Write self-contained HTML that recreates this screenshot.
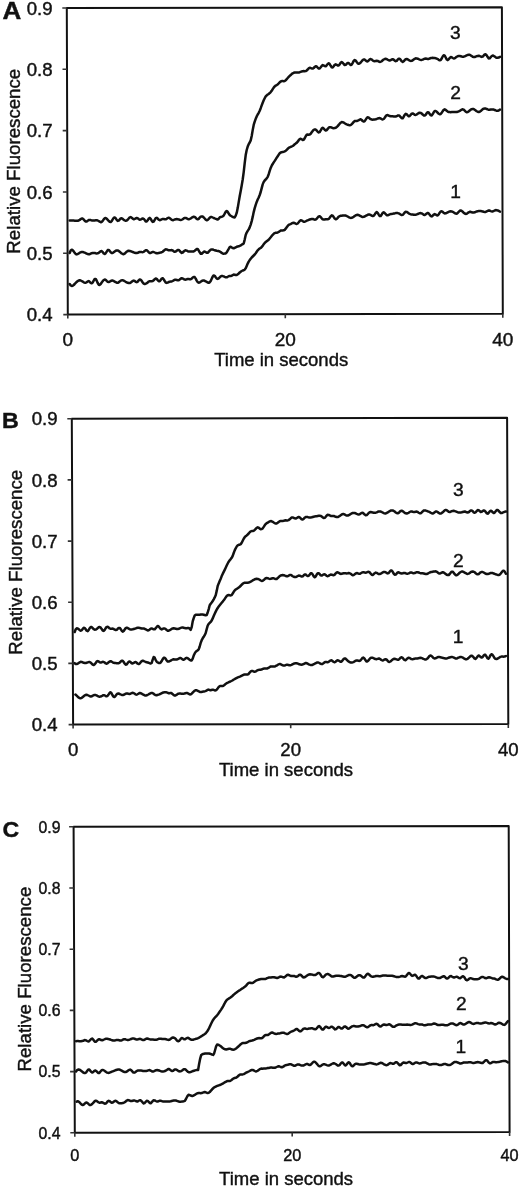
<!DOCTYPE html>
<html><head><meta charset="utf-8"><title>Relative Fluorescence vs Time</title>
<style>
html,body{margin:0;padding:0;background:#fff;overflow:hidden;}
svg{display:block;}
text{font-family:"Liberation Sans", Arial, Helvetica, sans-serif;fill:#111;stroke:#111;stroke-width:0.42px;}
</style></head>
<body>
<svg width="520" height="1186" viewBox="0 0 520 1186">
<rect width="520" height="1186" fill="#fff"/>
<g fill="none" stroke="#111" stroke-width="2" stroke-linejoin="round">
<path d="M66.8,8.0 L501.9,7.3 L502.8,313.8 L67.8,314.6 Z"/>
<path stroke="#333" stroke-width="1.6" d="M66.8,8.0 h-4.5 M67.0,69.3 h-4.5 M67.2,130.6 h-4.5 M67.4,192.0 h-4.5 M67.6,253.3 h-4.5 M67.8,314.6 h-4.5 M67.8,314.6 v4 M285.3,314.2 v4 M502.8,313.8 v4"/>
<path d="M71.8,418.7 L507.1,417.7 L508.3,724.0 L73.1,724.6 Z"/>
<path stroke="#333" stroke-width="1.6" d="M71.8,418.7 h-4.5 M72.1,479.9 h-4.5 M72.3,541.1 h-4.5 M72.6,602.2 h-4.5 M72.8,663.4 h-4.5 M73.1,724.6 h-4.5 M73.1,724.6 v4 M290.7,724.3 v4 M508.3,724.0 v4"/>
<path d="M73.6,826.8 L508.7,825.9 L509.6,1132.0 L74.8,1132.8 Z"/>
<path stroke="#333" stroke-width="1.6" d="M73.6,826.8 h-4.5 M73.8,888.0 h-4.5 M74.1,949.2 h-4.5 M74.3,1010.4 h-4.5 M74.6,1071.6 h-4.5 M74.8,1132.8 h-4.5 M74.8,1132.8 v4 M292.2,1132.4 v4 M509.6,1132.0 v4"/>
</g>
<g fill="none" stroke="#111" stroke-width="2.5" stroke-linejoin="round" stroke-linecap="round">
<path d="M69.7,220.5 70.7,220.5 71.7,220.5 72.7,220.6 73.7,220.6 74.7,220.7 75.7,220.8 76.7,220.8 77.7,220.8 78.7,220.5 79.7,219.9 80.7,219.1 81.7,218.5 82.7,218.6 83.7,219.5 84.7,220.7 85.7,221.5 86.7,221.4 87.7,220.7 88.7,220.1 89.7,219.9 90.7,220.1 91.7,220.4 92.7,220.6 93.7,220.6 94.7,220.4 95.7,220.3 96.7,220.3 97.7,220.5 98.7,221.0 99.7,221.7 100.7,222.2 101.7,222.0 102.7,220.9 103.7,219.4 104.7,218.2 105.7,218.0 106.7,218.7 107.7,219.8 108.7,221.0 109.7,221.8 110.7,222.0 111.7,221.1 112.7,219.4 113.7,217.9 114.7,217.4 115.7,218.3 116.7,219.9 117.7,220.9 118.7,220.6 119.7,219.5 120.7,218.5 121.7,218.3 122.7,218.9 123.7,219.7 124.7,220.4 125.7,220.7 126.7,220.5 127.7,219.7 128.7,218.5 129.7,217.4 130.7,217.1 131.7,217.7 132.7,218.6 133.7,219.2 134.7,219.0 135.7,218.4 136.7,217.9 137.7,218.3 138.7,219.1 139.7,219.7 140.7,219.6 141.7,218.9 142.7,218.4 143.7,218.8 144.7,220.1 145.7,221.4 146.7,221.5 147.7,220.3 148.7,218.6 149.7,217.9 150.7,218.9 151.7,220.7 152.7,221.9 153.7,221.5 154.7,219.8 155.7,218.2 156.7,217.8 157.7,218.6 158.7,219.7 159.7,220.2 160.7,219.9 161.7,219.3 162.7,218.9 163.7,219.0 164.7,219.3 165.7,219.3 166.7,218.8 167.7,218.1 168.7,217.7 169.7,218.1 170.7,219.0 171.7,219.8 172.7,220.2 173.7,220.0 174.7,219.5 175.7,219.2 176.7,219.1 177.7,219.2 178.7,219.4 179.7,219.7 180.7,219.9 181.7,219.8 182.7,219.2 183.7,218.4 184.7,217.9 185.7,217.9 186.7,218.4 187.7,219.0 188.7,219.2 189.7,219.0 190.7,218.5 191.7,217.8 192.7,217.1 193.7,216.7 194.7,216.9 195.7,217.8 196.7,218.8 197.7,219.3 198.7,218.8 199.7,217.7 200.7,216.7 201.7,216.4 202.7,216.6 203.7,217.4 204.7,218.5 205.7,219.6 206.7,220.2 207.7,220.0 208.7,218.9 209.7,217.7 210.7,216.9 211.7,217.0 212.7,217.5 213.7,218.0 214.7,218.4 215.7,218.7 216.7,219.3 217.7,219.6 218.7,218.7 219.7,217.4 220.7,216.9 221.7,216.7 222.7,216.4 223.7,215.5 224.7,213.7 225.7,211.8 226.7,211.0 227.7,211.8 228.7,213.5 229.7,214.9 230.7,215.7 231.7,216.3 232.7,216.8 233.7,217.3 234.7,217.4 235.7,215.7 236.7,212.9 237.7,208.1 238.7,202.1 239.7,196.3 240.7,191.0 241.7,185.6 242.7,179.5 243.7,172.1 244.7,163.2 245.7,155.1 246.7,150.0 247.7,146.6 248.7,144.2 249.7,142.5 250.7,140.4 251.7,136.0 252.7,130.1 253.7,124.9 254.7,121.6 255.7,118.8 256.7,116.4 257.7,114.5 258.7,112.8 259.7,110.7 260.7,108.2 261.7,105.4 262.7,102.7 263.7,100.3 264.7,98.3 265.7,96.4 266.7,95.4 267.7,94.6 268.7,93.9 269.7,93.1 270.7,92.1 271.7,90.8 272.7,89.1 273.7,87.6 274.7,86.4 275.7,85.6 276.7,85.1 277.7,84.4 278.7,83.4 279.7,82.3 280.7,81.5 281.7,81.1 282.7,81.1 283.7,81.2 284.7,81.0 285.7,80.3 286.7,79.2 287.7,78.0 288.7,76.9 289.7,75.9 290.7,75.0 291.7,74.1 292.7,73.3 293.7,72.8 294.7,72.5 295.7,72.5 296.7,72.5 297.7,72.6 298.7,72.5 299.7,72.2 300.7,71.8 301.7,71.4 302.7,71.2 303.7,71.1 304.7,71.2 305.7,71.1 306.7,70.5 307.7,69.5 308.7,68.4 309.7,67.8 310.7,68.0 311.7,68.5 312.7,68.6 313.7,68.0 314.7,67.0 315.7,66.2 316.7,66.5 317.7,67.6 318.7,68.5 319.7,68.5 320.7,67.3 321.7,65.9 322.7,65.1 323.7,65.4 324.7,66.1 325.7,66.3 326.7,65.3 327.7,64.0 328.7,63.3 329.7,64.1 330.7,65.8 331.7,67.3 332.7,67.4 333.7,66.2 334.7,64.8 335.7,64.3 336.7,64.8 337.7,65.5 338.7,65.4 339.7,64.3 340.7,62.8 341.7,62.0 342.7,62.7 343.7,64.0 344.7,65.0 345.7,64.8 346.7,63.8 347.7,62.9 348.7,63.1 349.7,64.1 350.7,65.0 351.7,64.6 352.7,62.9 353.7,60.9 354.7,60.0 355.7,60.6 356.7,62.0 357.7,63.3 358.7,63.8 359.7,63.4 360.7,62.5 361.7,61.3 362.7,60.1 363.7,59.4 364.7,59.6 365.7,60.5 366.7,61.3 367.7,61.4 368.7,60.5 369.7,59.4 370.7,59.0 371.7,59.5 372.7,60.4 373.7,61.1 374.7,61.2 375.7,60.9 376.7,60.7 377.7,60.9 378.7,61.5 379.7,61.9 380.7,61.8 381.7,61.2 382.7,60.3 383.7,59.5 384.7,59.0 385.7,58.8 386.7,59.1 387.7,59.7 388.7,60.3 389.7,60.5 390.7,60.1 391.7,59.5 392.7,59.2 393.7,59.7 394.7,60.6 395.7,61.2 396.7,60.8 397.7,59.7 398.7,58.7 399.7,58.7 400.7,59.9 401.7,61.3 402.7,61.9 403.7,61.3 404.7,60.2 405.7,59.2 406.7,59.0 407.7,59.4 408.7,60.0 409.7,60.6 410.7,60.9 411.7,60.8 412.7,60.3 413.7,59.5 414.7,58.8 415.7,58.3 416.7,58.4 417.7,58.7 418.7,59.2 419.7,59.6 420.7,59.9 421.7,59.9 422.7,59.6 423.7,59.1 424.7,58.7 425.7,58.6 426.7,58.8 427.7,59.0 428.7,58.9 429.7,58.5 430.7,58.1 431.7,57.9 432.7,57.8 433.7,57.9 434.7,58.1 435.7,58.3 436.7,58.6 437.7,59.1 438.7,59.8 439.7,60.3 440.7,60.0 441.7,58.5 442.7,56.5 443.7,55.2 444.7,55.6 445.7,57.5 446.7,59.4 447.7,60.1 448.7,59.3 449.7,58.0 450.7,57.1 451.7,57.3 452.7,58.0 453.7,58.5 454.7,58.3 455.7,57.6 456.7,56.8 457.7,56.2 458.7,55.9 459.7,55.9 460.7,56.2 461.7,56.5 462.7,56.7 463.7,56.7 464.7,56.3 465.7,55.9 466.7,55.3 467.7,54.9 468.7,54.7 469.7,54.8 470.7,55.4 471.7,56.1 472.7,56.8 473.7,57.0 474.7,57.0 475.7,56.6 476.7,56.2 477.7,55.9 478.7,55.8 479.7,56.0 480.7,56.5 481.7,56.9 482.7,56.6 483.7,55.5 484.7,54.5 485.7,54.3 486.7,55.4 487.7,57.1 488.7,58.4 489.7,58.3 490.7,57.2 491.7,56.0 492.7,55.5 493.7,55.9 494.7,56.6 495.7,57.3 496.7,57.8 497.7,57.8 498.7,57.6 499.7,57.0 500.0,56.9"/>
<path d="M69.7,253.0 70.7,250.5 71.7,249.7 72.7,250.2 73.7,251.4 74.7,252.9 75.7,254.0 76.7,254.4 77.7,254.1 78.7,253.4 79.7,252.7 80.7,252.3 81.7,252.1 82.7,252.1 83.7,252.3 84.7,252.7 85.7,253.1 86.7,253.7 87.7,254.1 88.7,254.3 89.7,254.2 90.7,253.7 91.7,253.2 92.7,252.9 93.7,252.9 94.7,252.9 95.7,253.2 96.7,253.4 97.7,253.3 98.7,252.9 99.7,252.0 100.7,251.2 101.7,251.1 102.7,252.1 103.7,253.4 104.7,254.0 105.7,253.2 106.7,251.6 107.7,250.1 108.7,249.9 109.7,250.9 110.7,252.2 111.7,253.0 112.7,252.9 113.7,252.3 114.7,251.5 115.7,250.8 116.7,250.5 117.7,250.5 118.7,250.9 119.7,251.7 120.7,252.6 121.7,253.5 122.7,254.0 123.7,254.2 124.7,253.7 125.7,252.7 126.7,251.7 127.7,251.0 128.7,250.7 129.7,250.9 130.7,251.2 131.7,251.6 132.7,252.0 133.7,252.4 134.7,252.8 135.7,253.0 136.7,253.1 137.7,252.8 138.7,252.3 139.7,252.0 140.7,251.9 141.7,252.1 142.7,252.2 143.7,251.8 144.7,251.0 145.7,250.3 146.7,250.2 147.7,251.1 148.7,252.2 149.7,253.0 150.7,252.9 151.7,252.4 152.7,251.9 153.7,252.0 154.7,252.5 155.7,253.0 156.7,253.3 157.7,253.2 158.7,252.9 159.7,252.7 160.7,252.6 161.7,252.3 162.7,251.7 163.7,250.8 164.7,249.8 165.7,249.3 166.7,249.4 167.7,249.8 168.7,250.3 169.7,250.3 170.7,250.2 171.7,250.1 172.7,250.5 173.7,251.3 174.7,251.8 175.7,251.6 176.7,250.8 177.7,250.0 178.7,249.9 179.7,250.9 180.7,252.1 181.7,252.9 182.7,252.5 183.7,251.5 184.7,250.6 185.7,250.3 186.7,250.7 187.7,251.2 188.7,251.5 189.7,251.6 190.7,251.5 191.7,251.5 192.7,251.5 193.7,251.4 194.7,250.8 195.7,249.9 196.7,249.1 197.7,249.1 198.7,250.5 199.7,252.3 200.7,253.7 201.7,253.7 202.7,252.8 203.7,251.8 204.7,251.6 205.7,252.1 206.7,252.7 207.7,252.7 208.7,251.8 209.7,250.6 210.7,249.7 211.7,249.4 212.7,249.5 213.7,249.9 214.7,250.2 215.7,250.5 216.7,250.8 217.7,250.9 218.7,251.1 219.7,251.5 220.7,252.1 221.7,252.9 222.7,253.5 223.7,253.7 224.7,253.6 225.7,253.4 226.7,252.4 227.7,250.6 228.7,248.9 229.7,247.1 230.7,246.7 231.7,247.4 232.7,248.1 233.7,248.3 234.7,247.8 235.7,247.3 236.7,246.8 237.7,246.5 238.7,246.3 239.7,245.9 240.7,245.4 241.7,244.7 242.7,244.2 243.7,243.4 244.7,239.6 245.7,235.0 246.7,232.6 247.7,230.9 248.7,229.4 249.7,227.4 250.7,224.6 251.7,221.1 252.7,216.9 253.7,212.1 254.7,208.1 255.7,204.8 256.7,201.9 257.7,199.6 258.7,197.4 259.7,195.0 260.7,192.0 261.7,188.1 262.7,184.4 263.7,181.9 264.7,180.5 265.7,179.5 266.7,178.4 267.7,176.8 268.7,174.2 269.7,170.9 270.7,167.9 271.7,165.7 272.7,164.0 273.7,162.4 274.7,160.9 275.7,159.3 276.7,157.7 277.7,156.3 278.7,154.7 279.7,153.3 280.7,152.5 281.7,152.2 282.7,151.9 283.7,151.7 284.7,151.4 285.7,150.8 286.7,149.9 287.7,148.8 288.7,147.9 289.7,147.3 290.7,146.9 291.7,146.5 292.7,146.0 293.7,145.2 294.7,144.3 295.7,143.6 296.7,142.8 297.7,141.7 298.7,140.2 299.7,139.1 300.7,138.7 301.7,139.3 302.7,140.0 303.7,139.8 304.7,138.3 305.7,136.2 306.7,134.8 307.7,134.5 308.7,134.7 309.7,134.6 310.7,133.8 311.7,132.3 312.7,130.9 313.7,129.8 314.7,129.4 315.7,129.6 316.7,130.5 317.7,131.7 318.7,132.4 319.7,132.0 320.7,130.4 321.7,128.6 322.7,127.8 323.7,128.5 324.7,129.7 325.7,130.5 326.7,130.1 327.7,128.9 328.7,127.7 329.7,127.2 330.7,127.2 331.7,127.6 332.7,128.0 333.7,128.2 334.7,128.1 335.7,127.8 336.7,127.0 337.7,126.1 338.7,124.9 339.7,123.7 340.7,122.7 341.7,122.1 342.7,122.2 343.7,122.6 344.7,123.3 345.7,123.9 346.7,124.4 347.7,124.7 348.7,125.0 349.7,125.2 350.7,125.0 351.7,124.3 352.7,123.1 353.7,121.9 354.7,121.1 355.7,120.9 356.7,121.0 357.7,120.8 358.7,120.2 359.7,119.6 360.7,119.3 361.7,120.0 362.7,121.0 363.7,121.6 364.7,121.1 365.7,119.6 366.7,118.1 367.7,117.3 368.7,117.6 369.7,118.4 370.7,119.2 371.7,119.6 372.7,119.7 373.7,119.6 374.7,119.5 375.7,119.3 376.7,119.0 377.7,118.5 378.7,118.2 379.7,118.1 380.7,118.5 381.7,119.1 382.7,119.5 383.7,119.0 384.7,117.7 385.7,116.2 386.7,115.2 387.7,115.1 388.7,115.6 389.7,116.1 390.7,116.3 391.7,116.3 392.7,116.3 393.7,116.4 394.7,116.6 395.7,116.6 396.7,116.2 397.7,115.6 398.7,115.4 399.7,115.9 400.7,117.2 401.7,118.2 402.7,118.2 403.7,116.7 404.7,114.9 405.7,113.8 406.7,114.2 407.7,115.4 408.7,116.3 409.7,116.0 410.7,114.8 411.7,113.7 412.7,113.4 413.7,114.0 414.7,114.8 415.7,115.0 416.7,114.5 417.7,113.7 418.7,113.0 419.7,112.7 420.7,112.9 421.7,113.5 422.7,114.5 423.7,115.4 424.7,115.6 425.7,114.7 426.7,113.2 427.7,112.2 428.7,112.5 429.7,113.9 430.7,115.3 431.7,115.4 432.7,114.1 433.7,112.3 434.7,111.0 435.7,111.0 436.7,111.7 437.7,112.8 438.7,113.7 439.7,114.3 440.7,114.0 441.7,112.8 442.7,111.2 443.7,109.8 444.7,109.3 445.7,109.8 446.7,110.8 447.7,111.6 448.7,112.0 449.7,112.1 450.7,112.2 451.7,112.1 452.7,112.1 453.7,112.1 454.7,112.1 455.7,112.1 456.7,112.0 457.7,111.7 458.7,111.4 459.7,110.9 460.7,110.2 461.7,109.6 462.7,109.3 463.7,109.7 464.7,110.7 465.7,111.7 466.7,112.3 467.7,112.1 468.7,111.4 469.7,110.5 470.7,109.7 471.7,109.2 472.7,108.9 473.7,109.1 474.7,109.7 475.7,110.4 476.7,111.2 477.7,111.8 478.7,112.1 479.7,111.8 480.7,111.1 481.7,110.1 482.7,109.2 483.7,108.7 484.7,108.5 485.7,108.6 486.7,109.0 487.7,109.4 488.7,109.7 489.7,109.7 490.7,109.5 491.7,109.4 492.7,109.4 493.7,109.6 494.7,110.0 495.7,110.4 496.7,110.7 497.7,110.8 498.7,110.5 499.7,109.8 500.0,109.6"/>
<path d="M69.7,284.0 70.7,285.4 71.7,285.9 72.7,285.7 73.7,285.0 74.7,284.0 75.7,282.9 76.7,281.9 77.7,281.1 78.7,280.5 79.7,280.3 80.7,280.5 81.7,281.0 82.7,281.6 83.7,282.3 84.7,282.7 85.7,282.8 86.7,282.2 87.7,281.4 88.7,281.1 89.7,281.8 90.7,282.8 91.7,283.3 92.7,282.5 93.7,280.6 94.7,279.0 95.7,279.0 96.7,280.7 97.7,283.0 98.7,284.7 99.7,284.9 100.7,284.0 101.7,282.6 102.7,281.1 103.7,280.0 104.7,279.5 105.7,279.9 106.7,280.9 107.7,281.7 108.7,282.0 109.7,281.6 110.7,281.0 111.7,280.6 112.7,280.6 113.7,281.0 114.7,281.6 115.7,282.2 116.7,282.7 117.7,282.8 118.7,282.3 119.7,281.4 120.7,280.7 121.7,280.3 122.7,280.3 123.7,280.6 124.7,281.2 125.7,281.8 126.7,282.3 127.7,282.8 128.7,283.1 129.7,283.1 130.7,282.6 131.7,281.7 132.7,280.9 133.7,280.6 134.7,281.0 135.7,281.8 136.7,282.2 137.7,281.6 138.7,280.4 139.7,279.5 140.7,279.7 141.7,280.9 142.7,282.5 143.7,283.6 144.7,284.0 145.7,283.8 146.7,283.2 147.7,282.4 148.7,281.6 149.7,281.2 150.7,281.2 151.7,281.3 152.7,281.1 153.7,280.3 154.7,279.2 155.7,278.5 156.7,278.9 157.7,280.1 158.7,281.2 159.7,281.2 160.7,279.9 161.7,278.6 162.7,278.2 163.7,279.3 164.7,281.0 165.7,282.5 166.7,282.9 167.7,282.6 168.7,282.0 169.7,281.7 170.7,281.6 171.7,281.5 172.7,281.0 173.7,280.4 174.7,279.8 175.7,279.7 176.7,280.0 177.7,280.3 178.7,280.2 179.7,279.5 180.7,278.7 181.7,278.2 182.7,278.4 183.7,279.1 184.7,279.6 185.7,279.7 186.7,279.3 187.7,279.0 188.7,279.0 189.7,279.2 190.7,279.2 191.7,278.6 192.7,277.6 193.7,276.9 194.7,277.1 195.7,278.6 196.7,280.6 197.7,282.2 198.7,282.7 199.7,282.4 200.7,281.7 201.7,281.0 202.7,280.6 203.7,280.5 204.7,280.8 205.7,281.3 206.7,281.9 207.7,282.5 208.7,282.8 209.7,282.3 210.7,280.9 211.7,278.7 212.7,276.6 213.7,275.4 214.7,275.8 215.7,277.2 216.7,278.5 217.7,278.9 218.7,278.4 219.7,277.4 220.7,276.4 221.7,276.0 222.7,276.1 223.7,276.4 224.7,276.9 225.7,277.3 226.7,277.3 227.7,276.8 228.7,276.2 229.7,275.9 230.7,276.0 231.7,275.8 232.7,275.1 233.7,274.6 234.7,274.7 235.7,275.0 236.7,275.0 237.7,274.4 238.7,273.5 239.7,272.5 240.7,271.7 241.7,271.0 242.7,270.5 243.7,270.2 244.7,269.6 245.7,268.3 246.7,266.0 247.7,263.6 248.7,261.6 249.7,260.1 250.7,258.7 251.7,257.5 252.7,256.5 253.7,255.5 254.7,254.5 255.7,253.2 256.7,251.7 257.7,250.3 258.7,249.3 259.7,248.5 260.7,247.9 261.7,247.1 262.7,245.8 263.7,244.2 264.7,242.9 265.7,242.1 266.7,241.3 267.7,240.5 268.7,239.7 269.7,238.5 270.7,237.3 271.7,236.0 272.7,234.8 273.7,233.8 274.7,233.1 275.7,232.8 276.7,232.7 277.7,232.5 278.7,231.9 279.7,231.2 280.7,230.6 281.7,230.4 282.7,230.4 283.7,230.3 284.7,229.8 285.7,228.7 286.7,227.3 287.7,225.9 288.7,224.9 289.7,224.4 290.7,224.1 291.7,223.4 292.7,222.9 293.7,222.7 294.7,223.1 295.7,223.6 296.7,224.0 297.7,223.5 298.7,222.3 299.7,220.9 300.7,220.2 301.7,220.4 302.7,221.1 303.7,221.7 304.7,221.7 305.7,221.3 306.7,220.7 307.7,220.3 308.7,219.9 309.7,219.5 310.7,219.2 311.7,219.0 312.7,219.0 313.7,219.3 314.7,219.7 315.7,219.6 316.7,218.8 317.7,217.5 318.7,216.4 319.7,216.2 320.7,217.1 321.7,218.3 322.7,219.3 323.7,219.5 324.7,219.4 325.7,219.2 326.7,219.3 327.7,219.3 328.7,218.9 329.7,217.7 330.7,216.3 331.7,215.3 332.7,215.7 333.7,217.1 334.7,218.6 335.7,219.3 336.7,218.8 337.7,217.8 338.7,216.7 339.7,216.1 340.7,215.8 341.7,215.7 342.7,215.5 343.7,215.4 344.7,215.4 345.7,215.6 346.7,216.0 347.7,216.5 348.7,217.1 349.7,217.6 350.7,217.9 351.7,217.8 352.7,217.4 353.7,216.8 354.7,216.0 355.7,215.4 356.7,214.9 357.7,214.8 358.7,215.1 359.7,215.6 360.7,216.2 361.7,216.7 362.7,216.9 363.7,216.8 364.7,216.5 365.7,215.9 366.7,215.3 367.7,214.8 368.7,214.5 369.7,214.6 370.7,215.0 371.7,215.6 372.7,216.1 373.7,215.8 374.7,214.5 375.7,212.9 376.7,212.1 377.7,212.9 378.7,214.6 379.7,216.1 380.7,216.0 381.7,214.5 382.7,212.9 383.7,212.3 384.7,213.0 385.7,214.2 386.7,215.2 387.7,215.3 388.7,214.9 389.7,214.4 390.7,214.1 391.7,213.9 392.7,213.8 393.7,213.6 394.7,213.4 395.7,213.1 396.7,213.0 397.7,213.1 398.7,213.4 399.7,213.9 400.7,214.6 401.7,215.0 402.7,214.8 403.7,213.8 404.7,212.6 405.7,211.8 406.7,211.9 407.7,212.5 408.7,213.4 409.7,213.9 410.7,214.2 411.7,214.4 412.7,214.5 413.7,214.7 414.7,214.8 415.7,214.7 416.7,214.4 417.7,214.0 418.7,213.6 419.7,213.2 420.7,213.1 421.7,213.4 422.7,214.0 423.7,214.7 424.7,215.0 425.7,214.4 426.7,213.5 427.7,212.9 428.7,213.4 429.7,214.7 430.7,216.1 431.7,216.4 432.7,215.7 433.7,214.6 434.7,214.1 435.7,214.6 436.7,215.3 437.7,215.4 438.7,214.4 439.7,212.7 440.7,211.4 441.7,211.3 442.7,211.9 443.7,212.9 444.7,213.4 445.7,213.3 446.7,212.8 447.7,212.3 448.7,211.8 449.7,211.4 450.7,211.3 451.7,211.4 452.7,211.8 453.7,212.4 454.7,213.1 455.7,213.6 456.7,213.7 457.7,213.0 458.7,211.8 459.7,210.8 460.7,210.5 461.7,210.9 462.7,211.8 463.7,212.7 464.7,213.5 465.7,213.9 466.7,213.8 467.7,213.1 468.7,212.3 469.7,211.8 470.7,211.8 471.7,212.3 472.7,212.6 473.7,212.6 474.7,212.3 475.7,211.8 476.7,211.4 477.7,211.2 478.7,211.1 479.7,211.1 480.7,211.1 481.7,211.3 482.7,211.5 483.7,211.8 484.7,212.0 485.7,211.9 486.7,211.4 487.7,210.9 488.7,210.5 489.7,210.6 490.7,211.1 491.7,211.4 492.7,211.4 493.7,211.0 494.7,210.5 495.7,210.1 496.7,210.2 497.7,210.4 498.7,210.9 499.7,211.5 500.0,211.6"/>
<path d="M74.7,632.0 75.7,629.3 76.7,628.3 77.7,628.4 78.7,629.2 79.7,630.2 80.7,630.8 81.7,630.2 82.7,628.9 83.7,627.8 84.7,627.9 85.7,629.2 86.7,630.7 87.7,631.2 88.7,630.0 89.7,628.2 90.7,627.0 91.7,627.1 92.7,628.1 93.7,629.2 94.7,629.7 95.7,629.6 96.7,629.0 97.7,628.1 98.7,627.2 99.7,626.9 100.7,627.6 101.7,629.1 102.7,630.5 103.7,630.9 104.7,629.8 105.7,628.1 106.7,626.9 107.7,626.8 108.7,627.6 109.7,628.4 110.7,628.7 111.7,628.7 112.7,628.6 113.7,629.0 114.7,629.7 115.7,630.1 116.7,629.8 117.7,628.8 118.7,627.9 119.7,627.9 120.7,629.1 121.7,630.7 122.7,631.6 123.7,631.0 124.7,629.5 125.7,628.1 126.7,627.7 127.7,628.0 128.7,628.6 129.7,629.2 130.7,629.4 131.7,629.4 132.7,629.3 133.7,629.0 134.7,628.7 135.7,628.4 136.7,628.0 137.7,627.8 138.7,627.7 139.7,627.9 140.7,628.2 141.7,628.5 142.7,628.6 143.7,628.6 144.7,628.8 145.7,629.3 146.7,629.9 147.7,630.4 148.7,630.2 149.7,629.5 150.7,628.7 151.7,628.4 152.7,628.8 153.7,629.3 154.7,629.3 155.7,628.2 156.7,626.9 157.7,626.0 158.7,626.4 159.7,627.7 160.7,628.9 161.7,629.4 162.7,628.9 163.7,628.4 164.7,628.4 165.7,629.1 166.7,630.0 167.7,630.7 168.7,630.7 169.7,630.2 170.7,629.6 171.7,628.9 172.7,628.4 173.7,628.2 174.7,628.4 175.7,628.7 176.7,629.1 177.7,629.1 178.7,628.8 179.7,628.3 180.7,627.9 181.7,627.6 182.7,627.6 183.7,627.8 184.7,628.1 185.7,628.3 186.7,628.3 187.7,628.1 188.7,627.9 189.7,628.8 190.7,629.8 191.7,627.1 192.7,621.4 193.7,618.1 194.7,615.5 195.7,614.8 196.7,614.8 197.7,614.8 198.7,614.8 199.7,614.7 200.7,614.5 201.7,614.4 202.7,614.5 203.7,614.7 204.7,615.0 205.7,615.3 206.7,615.1 207.7,612.5 208.7,609.1 209.7,605.2 210.7,603.7 211.7,602.5 212.7,601.0 213.7,599.3 214.7,597.4 215.7,595.3 216.7,590.9 217.7,586.0 218.7,583.4 219.7,581.1 220.7,578.7 221.7,576.1 222.7,573.9 223.7,571.9 224.7,569.9 225.7,567.8 226.7,565.6 227.7,563.5 228.7,561.7 229.7,560.3 230.7,559.1 231.7,557.8 232.7,555.9 233.7,553.0 234.7,550.4 235.7,548.3 236.7,546.5 237.7,545.3 238.7,544.8 239.7,544.7 240.7,544.2 241.7,542.8 242.7,540.7 243.7,538.7 244.7,537.2 245.7,536.2 246.7,535.4 247.7,534.5 248.7,533.5 249.7,532.3 250.7,531.4 251.7,531.1 252.7,531.0 253.7,530.7 254.7,530.0 255.7,528.9 256.7,527.8 257.7,527.3 258.7,527.7 259.7,528.6 260.7,529.2 261.7,529.1 262.7,528.4 263.7,526.9 264.7,525.3 265.7,524.0 266.7,523.2 267.7,522.7 268.7,522.0 269.7,521.4 270.7,521.1 271.7,521.3 272.7,521.8 273.7,522.5 274.7,523.1 275.7,523.5 276.7,523.4 277.7,522.8 278.7,522.0 279.7,521.3 280.7,521.1 281.7,521.1 282.7,521.0 283.7,520.8 284.7,520.5 285.7,520.3 286.7,520.4 287.7,520.4 288.7,520.1 289.7,519.3 290.7,518.3 291.7,517.6 292.7,517.4 293.7,517.8 294.7,518.3 295.7,518.5 296.7,518.1 297.7,517.4 298.7,516.9 299.7,517.3 300.7,518.3 301.7,519.3 302.7,519.5 303.7,518.8 304.7,517.7 305.7,517.0 306.7,516.9 307.7,517.1 308.7,517.4 309.7,517.5 310.7,517.5 311.7,517.3 312.7,517.0 313.7,516.7 314.7,516.4 315.7,516.3 316.7,516.2 317.7,516.0 318.7,515.8 319.7,515.7 320.7,515.9 321.7,516.5 322.7,517.4 323.7,518.0 324.7,517.8 325.7,516.8 326.7,515.6 327.7,514.8 328.7,514.9 329.7,515.4 330.7,515.9 331.7,516.0 332.7,516.0 333.7,516.0 334.7,516.3 335.7,516.8 336.7,517.1 337.7,517.1 338.7,516.6 339.7,515.9 340.7,515.2 341.7,514.5 342.7,514.1 343.7,514.1 344.7,514.5 345.7,515.1 346.7,515.5 347.7,515.5 348.7,515.2 349.7,514.6 350.7,514.0 351.7,513.4 352.7,513.0 353.7,512.9 354.7,513.0 355.7,513.4 356.7,513.9 357.7,514.2 358.7,514.4 359.7,514.2 360.7,513.5 361.7,512.9 362.7,512.8 363.7,513.6 364.7,514.6 365.7,515.3 366.7,515.1 367.7,514.1 368.7,513.0 369.7,512.3 370.7,512.1 371.7,512.3 372.7,512.5 373.7,512.7 374.7,512.8 375.7,512.7 376.7,512.3 377.7,511.8 378.7,511.5 379.7,511.4 380.7,511.6 381.7,512.0 382.7,512.5 383.7,513.1 384.7,513.4 385.7,513.4 386.7,513.0 387.7,512.4 388.7,511.7 389.7,511.1 390.7,510.6 391.7,510.4 392.7,510.5 393.7,510.9 394.7,511.6 395.7,512.4 396.7,513.1 397.7,513.3 398.7,512.8 399.7,511.8 400.7,510.9 401.7,510.7 402.7,511.1 403.7,512.0 404.7,512.8 405.7,513.3 406.7,513.5 407.7,513.3 408.7,512.7 409.7,512.0 410.7,511.5 411.7,511.5 412.7,511.8 413.7,512.0 414.7,511.9 415.7,511.7 416.7,511.6 417.7,512.0 418.7,512.7 419.7,513.3 420.7,513.2 421.7,512.4 422.7,511.4 423.7,510.6 424.7,510.4 425.7,510.6 426.7,510.9 427.7,511.3 428.7,511.7 429.7,512.1 430.7,512.7 431.7,513.3 432.7,513.5 433.7,513.1 434.7,512.3 435.7,511.6 436.7,511.5 437.7,512.1 438.7,512.9 439.7,513.5 440.7,513.5 441.7,513.1 442.7,512.3 443.7,511.3 444.7,510.4 445.7,509.9 446.7,510.2 447.7,511.0 448.7,511.8 449.7,512.0 450.7,511.7 451.7,511.2 452.7,510.9 453.7,510.8 454.7,511.1 455.7,511.4 456.7,511.8 457.7,512.2 458.7,512.5 459.7,512.6 460.7,512.5 461.7,512.3 462.7,512.0 463.7,511.7 464.7,511.5 465.7,511.8 466.7,512.3 467.7,512.6 468.7,512.2 469.7,511.3 470.7,510.5 471.7,510.4 472.7,511.2 473.7,512.3 474.7,512.8 475.7,512.2 476.7,511.0 477.7,510.1 478.7,510.2 479.7,511.1 480.7,511.9 481.7,511.8 482.7,511.0 483.7,510.4 484.7,510.7 485.7,511.9 486.7,513.3 487.7,513.7 488.7,512.8 489.7,511.5 490.7,510.7 491.7,511.2 492.7,512.3 493.7,513.1 494.7,512.6 495.7,511.3 496.7,510.1 497.7,510.0 498.7,510.9 499.7,512.1 500.7,512.9 501.7,513.0 502.7,512.6 503.7,512.2 504.7,511.8 505.7,511.6 506.0,511.5"/>
<path d="M74.7,663.2 75.7,664.1 76.7,664.1 77.7,663.7 78.7,663.0 79.7,662.3 80.7,661.8 81.7,661.9 82.7,662.3 83.7,662.8 84.7,663.0 85.7,663.0 86.7,662.7 87.7,662.4 88.7,662.1 89.7,662.1 90.7,662.6 91.7,663.6 92.7,664.7 93.7,665.1 94.7,664.3 95.7,662.9 96.7,661.5 97.7,661.1 98.7,661.5 99.7,662.2 100.7,662.5 101.7,662.2 102.7,661.8 103.7,661.9 104.7,662.6 105.7,663.4 106.7,663.7 107.7,663.2 108.7,662.2 109.7,661.4 110.7,661.2 111.7,661.7 112.7,662.3 113.7,662.8 114.7,663.0 115.7,663.1 116.7,663.2 117.7,663.3 118.7,663.2 119.7,662.6 120.7,661.6 121.7,660.8 122.7,660.8 123.7,662.0 124.7,663.7 125.7,664.7 126.7,664.4 127.7,663.1 128.7,661.8 129.7,661.6 130.7,662.3 131.7,663.2 132.7,663.4 133.7,662.9 134.7,662.2 135.7,662.1 136.7,662.8 137.7,663.7 138.7,664.1 139.7,663.5 140.7,662.2 141.7,661.1 142.7,660.7 143.7,661.0 144.7,661.5 145.7,662.0 146.7,662.2 147.7,662.5 148.7,662.8 149.7,663.2 150.7,663.5 151.7,662.9 152.7,659.6 153.7,657.0 154.7,657.6 155.7,660.1 156.7,661.7 157.7,662.4 158.7,663.0 159.7,663.1 160.7,662.5 161.7,661.1 162.7,659.2 163.7,657.8 164.7,657.7 165.7,658.9 166.7,660.5 167.7,661.6 168.7,661.5 169.7,661.1 170.7,660.7 171.7,660.0 172.7,659.5 173.7,659.3 174.7,659.4 175.7,659.6 176.7,659.6 177.7,659.2 178.7,658.6 179.7,658.1 180.7,658.1 181.7,658.8 182.7,659.5 183.7,659.7 184.7,659.1 185.7,658.2 186.7,657.8 187.7,658.2 188.7,659.0 189.7,659.9 190.7,660.4 191.7,660.4 192.7,658.6 193.7,655.6 194.7,653.4 195.7,651.9 196.7,651.0 197.7,650.4 198.7,649.4 199.7,646.5 200.7,642.9 201.7,640.2 202.7,638.3 203.7,636.8 204.7,635.2 205.7,633.0 206.7,629.1 207.7,625.6 208.7,623.9 209.7,622.9 210.7,621.9 211.7,620.5 212.7,618.4 213.7,616.0 214.7,613.7 215.7,611.6 216.7,609.7 217.7,608.0 218.7,606.6 219.7,605.3 220.7,604.0 221.7,602.8 222.7,601.6 223.7,600.3 224.7,598.9 225.7,597.4 226.7,596.1 227.7,595.3 228.7,595.1 229.7,595.3 230.7,595.4 231.7,595.0 232.7,593.6 233.7,591.8 234.7,590.4 235.7,589.5 236.7,588.9 237.7,588.3 238.7,587.6 239.7,586.7 240.7,585.8 241.7,584.7 242.7,583.8 243.7,583.1 244.7,582.7 245.7,582.7 246.7,582.8 247.7,582.8 248.7,582.6 249.7,582.2 250.7,581.6 251.7,581.1 252.7,580.4 253.7,579.8 254.7,579.3 255.7,579.0 256.7,578.8 257.7,578.9 258.7,579.2 259.7,579.8 260.7,580.5 261.7,581.0 262.7,580.8 263.7,580.1 264.7,579.1 265.7,578.3 266.7,578.1 267.7,578.2 268.7,578.6 269.7,578.9 270.7,578.8 271.7,578.5 272.7,578.2 273.7,578.3 274.7,578.7 275.7,579.0 276.7,578.9 277.7,578.1 278.7,577.1 279.7,576.1 280.7,575.5 281.7,575.2 282.7,575.1 283.7,575.2 284.7,575.5 285.7,576.0 286.7,576.3 287.7,576.2 288.7,575.6 289.7,575.0 290.7,574.9 291.7,575.4 292.7,576.2 293.7,576.8 294.7,577.1 295.7,577.0 296.7,576.6 297.7,576.0 298.7,575.5 299.7,575.7 300.7,576.2 301.7,576.6 302.7,576.3 303.7,575.3 304.7,574.5 305.7,574.6 306.7,575.4 307.7,576.1 308.7,575.8 309.7,574.6 310.7,573.3 311.7,573.2 312.7,574.5 313.7,576.3 314.7,577.2 315.7,576.4 316.7,574.6 317.7,573.2 318.7,573.2 319.7,574.2 320.7,575.3 321.7,575.6 322.7,575.0 323.7,574.4 324.7,574.3 325.7,575.0 326.7,575.9 327.7,576.2 328.7,575.8 329.7,575.0 330.7,574.5 331.7,574.7 332.7,575.1 333.7,575.2 334.7,574.6 335.7,573.4 336.7,572.5 337.7,572.3 338.7,572.8 339.7,573.5 340.7,573.9 341.7,573.8 342.7,573.4 343.7,573.2 344.7,573.2 345.7,573.3 346.7,573.4 347.7,573.3 348.7,573.1 349.7,573.2 350.7,573.8 351.7,574.6 352.7,575.2 353.7,575.0 354.7,574.3 355.7,573.5 356.7,573.1 357.7,573.3 358.7,573.7 359.7,573.8 360.7,573.3 361.7,572.7 362.7,572.3 363.7,572.3 364.7,572.6 365.7,572.7 366.7,572.4 367.7,571.9 368.7,571.8 369.7,572.4 370.7,573.6 371.7,574.7 372.7,574.9 373.7,574.2 374.7,573.2 375.7,572.6 376.7,572.9 377.7,573.5 378.7,574.1 379.7,574.1 380.7,573.7 381.7,573.1 382.7,572.4 383.7,572.0 384.7,571.9 385.7,572.3 386.7,573.0 387.7,573.4 388.7,573.0 389.7,571.7 390.7,570.6 391.7,570.5 392.7,571.8 393.7,573.6 394.7,574.8 395.7,574.6 396.7,573.5 397.7,572.5 398.7,572.3 399.7,572.8 400.7,573.3 401.7,573.5 402.7,573.3 403.7,573.0 404.7,573.0 405.7,573.3 406.7,573.7 407.7,573.7 408.7,573.3 409.7,572.8 410.7,572.5 411.7,572.6 412.7,573.0 413.7,573.2 414.7,573.1 415.7,572.6 416.7,572.2 417.7,572.2 418.7,572.5 419.7,572.9 420.7,573.2 421.7,573.3 422.7,573.3 423.7,573.5 424.7,573.8 425.7,574.1 426.7,574.1 427.7,573.7 428.7,573.0 429.7,572.5 430.7,572.1 431.7,572.0 432.7,571.8 433.7,571.6 434.7,571.4 435.7,571.3 436.7,571.7 437.7,572.4 438.7,573.2 439.7,573.5 440.7,573.1 441.7,572.6 442.7,572.2 443.7,572.5 444.7,573.2 445.7,574.0 446.7,574.8 447.7,575.1 448.7,575.0 449.7,574.0 450.7,572.7 451.7,571.7 452.7,571.7 453.7,572.8 454.7,574.2 455.7,575.2 456.7,575.2 457.7,574.6 458.7,573.7 459.7,572.7 460.7,572.0 461.7,571.5 462.7,571.6 463.7,572.0 464.7,572.6 465.7,573.2 466.7,573.7 467.7,573.9 468.7,573.6 469.7,573.0 470.7,572.2 471.7,571.7 472.7,571.5 473.7,571.7 474.7,572.3 475.7,573.2 476.7,574.0 477.7,574.3 478.7,574.0 479.7,573.1 480.7,572.3 481.7,571.9 482.7,572.0 483.7,572.5 484.7,573.1 485.7,573.7 486.7,574.0 487.7,574.1 488.7,573.8 489.7,573.4 490.7,573.0 491.7,573.0 492.7,573.1 493.7,573.5 494.7,573.9 495.7,574.3 496.7,574.6 497.7,574.9 498.7,575.0 499.7,574.6 500.7,573.6 501.7,572.2 502.7,571.0 503.7,570.7 504.7,571.7 505.7,573.3 506.0,573.8"/>
<path d="M75.4,694.5 76.4,695.4 77.4,696.4 78.4,697.4 79.4,698.0 80.4,698.2 81.4,698.0 82.4,697.4 83.4,696.5 84.4,695.6 85.4,695.0 86.4,694.8 87.4,695.0 88.4,695.5 89.4,696.0 90.4,696.4 91.4,696.4 92.4,696.0 93.4,695.3 94.4,694.9 95.4,694.9 96.4,695.3 97.4,695.9 98.4,696.4 99.4,696.7 100.4,696.6 101.4,696.3 102.4,695.7 103.4,695.2 104.4,695.2 105.4,695.8 106.4,696.3 107.4,696.1 108.4,694.8 109.4,693.2 110.4,692.3 111.4,693.1 112.4,695.0 113.4,696.7 114.4,697.1 115.4,696.1 116.4,694.7 117.4,693.7 118.4,693.5 119.4,693.8 120.4,694.3 121.4,694.7 122.4,695.0 123.4,694.9 124.4,694.5 125.4,693.9 126.4,693.5 127.4,693.5 128.4,693.8 129.4,694.0 130.4,693.8 131.4,693.2 132.4,692.8 133.4,692.9 134.4,693.6 135.4,694.3 136.4,694.7 137.4,694.3 138.4,693.7 139.4,693.1 140.4,693.1 141.4,693.5 142.4,694.1 143.4,694.7 144.4,695.2 145.4,695.4 146.4,695.4 147.4,695.0 148.4,694.5 149.4,693.8 150.4,693.3 151.4,692.9 152.4,693.0 153.4,693.6 154.4,694.4 155.4,695.1 156.4,695.3 157.4,695.1 158.4,694.7 159.4,694.3 160.4,693.8 161.4,693.3 162.4,692.8 163.4,692.5 164.4,692.3 165.4,692.2 166.4,692.3 167.4,692.7 168.4,693.2 169.4,693.3 170.4,693.1 171.4,693.1 172.4,693.9 173.4,694.8 174.4,695.5 175.4,695.5 176.4,694.9 177.4,694.2 178.4,693.7 179.4,693.6 180.4,693.6 181.4,693.7 182.4,693.7 183.4,693.7 184.4,693.5 185.4,693.2 186.4,693.0 187.4,693.1 188.4,693.6 189.4,694.2 190.4,694.4 191.4,694.0 192.4,692.9 193.4,691.8 194.4,690.8 195.4,690.3 196.4,690.3 197.4,690.6 198.4,691.2 199.4,691.7 200.4,692.0 201.4,692.0 202.4,691.8 203.4,691.6 204.4,691.4 205.4,691.1 206.4,690.6 207.4,690.0 208.4,689.6 209.4,689.9 210.4,690.3 211.4,690.0 212.4,689.7 213.4,689.8 214.4,690.2 215.4,690.4 216.4,690.0 217.4,688.9 218.4,687.4 219.4,686.3 220.4,685.9 221.4,686.0 222.4,686.0 223.4,685.7 224.4,685.0 225.4,684.1 226.4,683.4 227.4,682.8 228.4,682.4 229.4,681.9 230.4,681.5 231.4,681.0 232.4,680.5 233.4,679.8 234.4,679.2 235.4,678.6 236.4,678.1 237.4,677.6 238.4,677.2 239.4,676.8 240.4,676.4 241.4,675.9 242.4,675.4 243.4,674.9 244.4,674.5 245.4,674.4 246.4,674.6 247.4,674.6 248.4,674.1 249.4,672.9 250.4,671.7 251.4,670.9 252.4,670.9 253.4,671.4 254.4,671.8 255.4,671.6 256.4,671.0 257.4,670.3 258.4,669.9 259.4,669.8 260.4,669.8 261.4,669.6 262.4,669.1 263.4,668.7 264.4,668.4 265.4,668.4 266.4,668.5 267.4,668.4 268.4,667.9 269.4,667.2 270.4,666.6 271.4,666.4 272.4,666.4 273.4,666.5 274.4,666.5 275.4,666.2 276.4,665.7 277.4,665.1 278.4,664.4 279.4,664.1 280.4,664.1 281.4,664.6 282.4,665.2 283.4,665.6 284.4,665.5 285.4,665.2 286.4,664.8 287.4,664.8 288.4,665.0 289.4,665.3 290.4,665.2 291.4,664.9 292.4,664.4 293.4,663.9 294.4,663.4 295.4,663.2 296.4,663.2 297.4,663.4 298.4,663.8 299.4,664.3 300.4,664.6 301.4,664.7 302.4,664.6 303.4,664.2 304.4,663.6 305.4,663.1 306.4,663.1 307.4,663.5 308.4,664.1 309.4,664.6 310.4,664.9 311.4,665.0 312.4,664.9 313.4,664.4 314.4,663.9 315.4,663.3 316.4,662.8 317.4,662.5 318.4,662.5 319.4,663.0 320.4,663.7 321.4,664.1 322.4,663.9 323.4,663.2 324.4,662.4 325.4,662.0 326.4,662.0 327.4,662.2 328.4,662.0 329.4,661.3 330.4,660.6 331.4,660.3 332.4,660.9 333.4,661.7 334.4,662.3 335.4,661.9 336.4,661.0 337.4,660.3 338.4,660.4 339.4,661.1 340.4,661.8 341.4,661.7 342.4,660.6 343.4,659.2 344.4,658.4 345.4,658.6 346.4,659.4 347.4,660.5 348.4,661.4 349.4,662.0 350.4,662.4 351.4,662.5 352.4,662.4 353.4,662.1 354.4,661.5 355.4,660.9 356.4,660.5 357.4,660.4 358.4,660.8 359.4,660.9 360.4,660.5 361.4,659.3 362.4,658.0 363.4,657.6 364.4,658.5 365.4,660.1 366.4,661.4 367.4,661.4 368.4,660.5 369.4,659.2 370.4,658.2 371.4,657.7 372.4,657.7 373.4,658.1 374.4,658.6 375.4,659.1 376.4,659.2 377.4,658.9 378.4,658.6 379.4,658.6 380.4,659.2 381.4,660.0 382.4,660.5 383.4,660.3 384.4,659.6 385.4,659.2 386.4,659.5 387.4,660.5 388.4,661.6 389.4,662.0 390.4,661.5 391.4,660.6 392.4,659.7 393.4,659.0 394.4,658.8 395.4,658.9 396.4,659.3 397.4,659.7 398.4,659.7 399.4,659.0 400.4,657.9 401.4,657.3 402.4,657.6 403.4,658.8 404.4,659.9 405.4,660.2 406.4,659.4 407.4,658.4 408.4,657.7 409.4,657.9 410.4,658.5 411.4,659.1 412.4,659.2 413.4,659.0 414.4,658.7 415.4,658.6 416.4,658.5 417.4,658.4 418.4,658.2 419.4,658.0 420.4,657.8 421.4,657.9 422.4,658.3 423.4,658.8 424.4,659.2 425.4,659.5 426.4,659.3 427.4,658.6 428.4,657.4 429.4,656.1 430.4,655.4 431.4,655.8 432.4,656.8 433.4,658.0 434.4,658.5 435.4,658.3 436.4,657.8 437.4,657.3 438.4,657.1 439.4,657.1 440.4,657.2 441.4,657.5 442.4,657.7 443.4,658.0 444.4,658.2 445.4,658.4 446.4,658.4 447.4,658.2 448.4,657.8 449.4,657.5 450.4,657.2 451.4,657.0 452.4,657.1 453.4,657.4 454.4,657.9 455.4,658.4 456.4,658.5 457.4,658.2 458.4,657.7 459.4,657.3 460.4,657.0 461.4,657.1 462.4,657.4 463.4,658.0 464.4,658.7 465.4,659.2 466.4,659.3 467.4,658.9 468.4,658.1 469.4,657.1 470.4,656.2 471.4,655.7 472.4,656.0 473.4,657.1 474.4,658.4 475.4,658.9 476.4,658.1 477.4,656.6 478.4,655.6 479.4,655.8 480.4,656.8 481.4,657.6 482.4,657.3 483.4,655.9 484.4,654.7 485.4,654.8 486.4,656.4 487.4,658.1 488.4,658.7 489.4,657.4 490.4,655.4 491.4,654.2 492.4,654.6 493.4,656.1 494.4,657.8 495.4,658.8 496.4,659.0 497.4,658.7 498.4,658.1 499.4,657.5 500.4,656.9 501.4,656.6 502.4,656.6 503.4,656.7 504.4,656.6 505.4,656.3 506.0,656.0"/>
<path d="M76.1,1041.2 77.1,1041.1 78.1,1041.1 79.1,1041.2 80.1,1041.3 81.1,1041.2 82.1,1041.1 83.1,1040.8 84.1,1040.3 85.1,1040.1 86.1,1040.4 87.1,1041.0 88.1,1041.5 89.1,1041.2 90.1,1040.2 91.1,1039.0 92.1,1038.5 93.1,1039.4 94.1,1040.8 95.1,1041.8 96.1,1041.7 97.1,1040.7 98.1,1039.6 99.1,1039.2 100.1,1039.5 101.1,1040.1 102.1,1040.3 103.1,1040.0 104.1,1039.5 105.1,1039.0 106.1,1038.8 107.1,1038.7 108.1,1038.9 109.1,1039.2 110.1,1039.5 111.1,1039.9 112.1,1040.2 113.1,1040.5 114.1,1040.6 115.1,1040.4 116.1,1040.1 117.1,1039.9 118.1,1039.9 119.1,1040.2 120.1,1040.5 121.1,1040.5 122.1,1040.1 123.1,1039.5 124.1,1039.2 125.1,1039.2 126.1,1039.6 127.1,1039.9 128.1,1039.9 129.1,1039.7 130.1,1039.4 131.1,1039.0 132.1,1038.6 133.1,1038.5 134.1,1038.6 135.1,1039.0 136.1,1039.4 137.1,1039.6 138.1,1039.3 139.1,1038.9 140.1,1038.8 141.1,1039.2 142.1,1039.8 143.1,1040.1 144.1,1040.0 145.1,1039.4 146.1,1038.8 147.1,1038.6 148.1,1038.8 149.1,1039.1 150.1,1039.4 151.1,1039.5 152.1,1039.5 153.1,1039.6 154.1,1039.7 155.1,1039.8 156.1,1039.8 157.1,1039.5 158.1,1039.1 159.1,1038.7 160.1,1038.7 161.1,1038.8 162.1,1039.0 163.1,1039.0 164.1,1039.0 165.1,1039.1 166.1,1039.3 167.1,1039.6 168.1,1039.9 169.1,1039.8 170.1,1039.3 171.1,1038.5 172.1,1037.8 173.1,1037.5 174.1,1037.7 175.1,1038.3 176.1,1039.4 177.1,1040.7 178.1,1041.3 179.1,1040.9 180.1,1039.7 181.1,1038.4 182.1,1038.0 183.1,1038.5 184.1,1039.2 185.1,1039.3 186.1,1038.6 187.1,1037.9 188.1,1037.8 189.1,1038.4 190.1,1039.2 191.1,1039.7 192.1,1039.8 193.1,1039.7 194.1,1039.4 195.1,1039.1 196.1,1038.8 197.1,1038.5 198.1,1038.1 199.1,1037.6 200.1,1037.0 201.1,1036.4 202.1,1035.7 203.1,1035.1 204.1,1034.5 205.1,1033.8 206.1,1032.8 207.1,1031.5 208.1,1030.0 209.1,1028.1 210.1,1025.9 211.1,1023.8 212.1,1021.8 213.1,1019.9 214.1,1018.5 215.1,1017.4 216.1,1016.4 217.1,1015.2 218.1,1013.9 219.1,1012.5 220.1,1011.1 221.1,1009.6 222.1,1008.0 223.1,1006.3 224.1,1004.4 225.1,1002.5 226.1,1000.8 227.1,999.7 228.1,999.0 229.1,998.4 230.1,997.8 231.1,997.0 232.1,996.2 233.1,995.3 234.1,994.4 235.1,993.5 236.1,992.8 237.1,992.0 238.1,991.3 239.1,990.6 240.1,990.0 241.1,989.3 242.1,988.6 243.1,988.0 244.1,987.3 245.1,986.6 246.1,985.6 247.1,984.4 248.1,983.4 249.1,982.8 250.1,982.7 251.1,983.0 252.1,983.0 253.1,982.7 254.1,982.0 255.1,981.3 256.1,980.6 257.1,980.2 258.1,979.8 259.1,979.5 260.1,979.2 261.1,979.0 262.1,979.0 263.1,979.0 264.1,979.1 265.1,979.0 266.1,978.7 267.1,978.2 268.1,977.8 269.1,977.6 270.1,977.5 271.1,977.4 272.1,977.3 273.1,977.2 274.1,977.2 275.1,977.4 276.1,977.8 277.1,978.0 278.1,977.8 279.1,977.2 280.1,976.7 281.1,976.6 282.1,976.9 283.1,977.3 284.1,977.4 285.1,976.8 286.1,975.9 287.1,975.0 288.1,974.8 289.1,975.1 290.1,975.7 291.1,976.1 292.1,976.1 293.1,975.9 294.1,976.0 295.1,976.4 296.1,976.8 297.1,976.6 298.1,975.9 299.1,975.0 300.1,974.7 301.1,975.2 302.1,976.3 303.1,977.2 304.1,977.4 305.1,977.0 306.1,976.3 307.1,975.5 308.1,974.9 309.1,974.5 310.1,974.3 311.1,974.4 312.1,974.6 313.1,974.9 314.1,975.0 315.1,975.0 316.1,974.6 317.1,973.8 318.1,973.1 319.1,973.0 320.1,973.9 321.1,975.5 322.1,976.9 323.1,977.2 324.1,976.5 325.1,975.4 326.1,974.4 327.1,974.1 328.1,974.1 329.1,974.6 330.1,975.3 331.1,976.1 332.1,976.6 333.1,976.6 334.1,976.3 335.1,976.0 336.1,975.8 337.1,975.7 338.1,975.7 339.1,975.8 340.1,975.9 341.1,976.0 342.1,976.3 343.1,976.6 344.1,976.8 345.1,976.7 346.1,976.4 347.1,975.8 348.1,975.3 349.1,974.9 350.1,974.9 351.1,975.2 352.1,976.0 353.1,977.0 354.1,977.7 355.1,977.7 356.1,977.1 357.1,976.2 358.1,975.5 359.1,975.2 360.1,975.3 361.1,975.9 362.1,976.8 363.1,977.6 364.1,977.6 365.1,976.6 366.1,975.1 367.1,974.0 368.1,973.8 369.1,974.5 370.1,975.5 371.1,976.3 372.1,976.7 373.1,976.7 374.1,976.5 375.1,976.3 376.1,976.0 377.1,976.0 378.1,976.1 379.1,976.2 380.1,976.3 381.1,976.1 382.1,975.7 383.1,975.4 384.1,975.4 385.1,975.5 386.1,975.6 387.1,975.7 388.1,975.7 389.1,975.7 390.1,975.7 391.1,975.7 392.1,975.8 393.1,976.0 394.1,976.3 395.1,976.6 396.1,976.9 397.1,977.0 398.1,977.0 399.1,976.9 400.1,976.6 401.1,976.2 402.1,976.0 403.1,976.2 404.1,976.6 405.1,976.7 406.1,976.1 407.1,974.7 408.1,973.4 409.1,973.0 410.1,973.8 411.1,975.0 412.1,975.9 413.1,975.6 414.1,975.0 415.1,974.7 416.1,975.6 417.1,977.2 418.1,978.4 419.1,978.5 420.1,977.5 421.1,976.3 422.1,975.9 423.1,976.5 424.1,977.4 425.1,978.0 426.1,978.0 427.1,977.6 428.1,977.1 429.1,976.8 430.1,976.7 431.1,976.6 432.1,976.6 433.1,976.5 434.1,976.6 435.1,976.9 436.1,977.3 437.1,977.7 438.1,978.0 439.1,978.1 440.1,977.9 441.1,977.4 442.1,976.8 443.1,976.3 444.1,976.3 445.1,977.1 446.1,978.1 447.1,978.6 448.1,978.2 449.1,977.2 450.1,976.2 451.1,976.1 452.1,976.7 453.1,977.3 454.1,977.6 455.1,977.2 456.1,976.8 457.1,976.8 458.1,977.4 459.1,978.1 460.1,978.2 461.1,977.5 462.1,976.6 463.1,976.2 464.1,976.9 465.1,978.5 466.1,979.9 467.1,980.3 468.1,979.7 469.1,978.8 470.1,978.2 471.1,978.3 472.1,978.7 473.1,979.1 474.1,979.2 475.1,979.3 476.1,979.2 477.1,979.2 478.1,979.0 479.1,978.7 480.1,978.0 481.1,977.3 482.1,976.9 483.1,977.0 484.1,977.5 485.1,978.1 486.1,978.3 487.1,977.9 488.1,977.5 489.1,977.2 490.1,977.4 491.1,977.8 492.1,978.2 493.1,978.4 494.1,978.6 495.1,978.8 496.1,979.3 497.1,979.7 498.1,979.7 499.1,979.1 500.1,978.1 501.1,977.1 502.1,976.7 503.1,977.0 504.1,977.6 505.1,978.3 506.1,978.7 507.1,978.9 508.0,978.9"/>
<path d="M76.1,1071.4 77.1,1070.1 78.1,1069.6 79.1,1069.6 80.1,1070.0 81.1,1070.7 82.1,1071.6 83.1,1072.4 84.1,1073.0 85.1,1073.1 86.1,1072.4 87.1,1071.1 88.1,1069.8 89.1,1069.5 90.1,1070.5 91.1,1071.8 92.1,1072.5 93.1,1072.1 94.1,1071.1 95.1,1070.4 96.1,1070.8 97.1,1071.9 98.1,1072.9 99.1,1073.0 100.1,1072.0 101.1,1070.8 102.1,1070.0 103.1,1070.0 104.1,1070.5 105.1,1071.2 106.1,1072.0 107.1,1072.6 108.1,1072.9 109.1,1072.8 110.1,1072.4 111.1,1072.0 112.1,1071.5 113.1,1071.2 114.1,1070.8 115.1,1070.4 116.1,1070.0 117.1,1069.7 118.1,1069.5 119.1,1069.6 120.1,1069.8 121.1,1070.3 122.1,1070.9 123.1,1071.5 124.1,1071.9 125.1,1072.0 126.1,1071.9 127.1,1071.4 128.1,1070.6 129.1,1069.9 130.1,1069.6 131.1,1070.1 132.1,1071.2 133.1,1072.3 134.1,1072.7 135.1,1072.3 136.1,1071.5 137.1,1070.8 138.1,1070.4 139.1,1070.4 140.1,1070.5 141.1,1070.6 142.1,1070.7 143.1,1070.9 144.1,1071.0 145.1,1071.1 146.1,1071.1 147.1,1070.8 148.1,1070.4 149.1,1070.1 150.1,1070.3 151.1,1070.8 152.1,1071.4 153.1,1071.6 154.1,1071.2 155.1,1070.7 156.1,1070.2 157.1,1070.1 158.1,1070.2 159.1,1070.5 160.1,1070.9 161.1,1071.2 162.1,1071.4 163.1,1071.4 164.1,1071.3 165.1,1071.0 166.1,1070.4 167.1,1069.7 168.1,1069.1 169.1,1069.1 170.1,1069.8 171.1,1070.6 172.1,1071.0 173.1,1070.7 174.1,1069.9 175.1,1069.4 176.1,1069.5 177.1,1070.1 178.1,1070.8 179.1,1071.3 180.1,1071.4 181.1,1071.1 182.1,1070.5 183.1,1069.7 184.1,1069.2 185.1,1069.2 186.1,1070.0 187.1,1071.1 188.1,1071.9 189.1,1072.3 190.1,1072.2 191.1,1071.8 192.1,1071.4 193.1,1071.0 194.1,1070.7 195.1,1070.4 196.1,1070.1 197.1,1070.1 198.1,1070.0 199.1,1064.0 200.1,1058.9 201.1,1055.3 202.1,1054.4 203.1,1053.9 204.1,1053.7 205.1,1053.5 206.1,1053.4 207.1,1053.4 208.1,1053.4 209.1,1053.5 210.1,1053.8 211.1,1054.1 212.1,1054.6 213.1,1054.9 214.1,1053.5 215.1,1050.0 216.1,1046.4 217.1,1044.6 218.1,1044.7 219.1,1045.2 220.1,1045.8 221.1,1046.6 222.1,1047.4 223.1,1048.2 224.1,1048.9 225.1,1049.3 226.1,1049.4 227.1,1049.2 228.1,1049.0 229.1,1048.8 230.1,1048.8 231.1,1049.1 232.1,1049.6 233.1,1049.7 234.1,1049.5 235.1,1049.1 236.1,1048.4 237.1,1047.6 238.1,1046.7 239.1,1045.8 240.1,1044.8 241.1,1044.0 242.1,1043.3 243.1,1043.1 244.1,1043.0 245.1,1043.0 246.1,1042.8 247.1,1042.3 248.1,1041.8 249.1,1041.2 250.1,1040.9 251.1,1040.7 252.1,1040.5 253.1,1040.2 254.1,1039.9 255.1,1039.4 256.1,1038.9 257.1,1038.5 258.1,1038.2 259.1,1038.1 260.1,1038.2 261.1,1038.3 262.1,1038.0 263.1,1037.2 264.1,1036.1 265.1,1035.3 266.1,1035.0 267.1,1035.0 268.1,1034.9 269.1,1034.3 270.1,1033.4 271.1,1032.7 272.1,1032.5 273.1,1032.9 274.1,1033.4 275.1,1033.8 276.1,1033.9 277.1,1033.8 278.1,1033.6 279.1,1033.4 280.1,1033.2 281.1,1032.9 282.1,1032.7 283.1,1032.7 284.1,1032.8 285.1,1033.3 286.1,1033.7 287.1,1034.0 288.1,1033.7 289.1,1033.0 290.1,1032.3 291.1,1031.7 292.1,1031.3 293.1,1031.0 294.1,1030.5 295.1,1029.7 296.1,1029.1 297.1,1029.1 298.1,1029.9 299.1,1030.9 300.1,1031.4 301.1,1031.0 302.1,1030.1 303.1,1029.0 304.1,1028.6 305.1,1028.6 306.1,1028.8 307.1,1028.9 308.1,1028.8 309.1,1028.6 310.1,1028.4 311.1,1028.3 312.1,1028.3 313.1,1028.6 314.1,1029.1 315.1,1029.3 316.1,1029.0 317.1,1027.9 318.1,1026.6 319.1,1026.0 320.1,1026.7 321.1,1028.2 322.1,1029.4 323.1,1029.5 324.1,1028.5 325.1,1027.2 326.1,1026.7 327.1,1027.1 328.1,1027.8 329.1,1028.0 330.1,1027.5 331.1,1026.8 332.1,1026.7 333.1,1027.4 334.1,1028.6 335.1,1029.4 336.1,1029.1 337.1,1028.1 338.1,1027.1 339.1,1027.0 340.1,1027.7 341.1,1028.4 342.1,1028.5 343.1,1027.7 344.1,1026.7 345.1,1026.4 346.1,1027.0 347.1,1028.0 348.1,1028.7 349.1,1028.5 350.1,1027.8 351.1,1027.0 352.1,1026.4 353.1,1026.1 354.1,1026.1 355.1,1026.3 356.1,1026.5 357.1,1026.6 358.1,1026.6 359.1,1026.3 360.1,1026.0 361.1,1025.6 362.1,1025.3 363.1,1025.3 364.1,1025.5 365.1,1026.2 366.1,1026.9 367.1,1027.3 368.1,1027.0 369.1,1026.3 370.1,1025.5 371.1,1025.1 372.1,1025.1 373.1,1025.2 374.1,1024.9 375.1,1024.3 376.1,1023.8 377.1,1023.9 378.1,1024.8 379.1,1025.9 380.1,1026.6 381.1,1026.3 382.1,1025.4 383.1,1024.7 384.1,1024.5 385.1,1024.7 386.1,1025.0 387.1,1024.9 388.1,1024.6 389.1,1024.3 390.1,1024.6 391.1,1025.4 392.1,1026.3 393.1,1026.8 394.1,1026.8 395.1,1026.3 396.1,1025.6 397.1,1025.1 398.1,1024.8 399.1,1024.6 400.1,1024.6 401.1,1024.6 402.1,1024.7 403.1,1024.8 404.1,1024.7 405.1,1024.7 406.1,1024.7 407.1,1024.6 408.1,1024.7 409.1,1024.8 410.1,1024.9 411.1,1024.9 412.1,1024.6 413.1,1024.1 414.1,1023.6 415.1,1023.2 416.1,1023.3 417.1,1023.7 418.1,1024.1 419.1,1024.4 420.1,1024.4 421.1,1024.4 422.1,1024.5 423.1,1024.9 424.1,1025.2 425.1,1025.3 426.1,1025.1 427.1,1024.8 428.1,1024.5 429.1,1024.5 430.1,1024.5 431.1,1024.4 432.1,1024.2 433.1,1023.8 434.1,1023.5 435.1,1023.7 436.1,1024.1 437.1,1024.7 438.1,1025.0 439.1,1025.1 440.1,1025.0 441.1,1024.8 442.1,1024.8 443.1,1024.8 444.1,1025.0 445.1,1025.2 446.1,1025.3 447.1,1025.3 448.1,1024.9 449.1,1024.4 450.1,1023.8 451.1,1023.4 452.1,1023.4 453.1,1023.6 454.1,1024.1 455.1,1024.7 456.1,1025.2 457.1,1025.1 458.1,1024.4 459.1,1023.6 460.1,1023.1 461.1,1023.3 462.1,1023.9 463.1,1024.5 464.1,1024.6 465.1,1024.2 466.1,1023.5 467.1,1022.9 468.1,1022.3 469.1,1022.1 470.1,1022.3 471.1,1022.9 472.1,1023.6 473.1,1023.9 474.1,1023.8 475.1,1023.4 476.1,1023.1 477.1,1023.0 478.1,1023.1 479.1,1023.3 480.1,1023.4 481.1,1023.4 482.1,1023.3 483.1,1023.0 484.1,1022.7 485.1,1022.5 486.1,1022.6 487.1,1022.9 488.1,1023.3 489.1,1023.4 490.1,1023.3 491.1,1023.1 492.1,1023.2 493.1,1023.6 494.1,1024.2 495.1,1024.6 496.1,1024.3 497.1,1023.7 498.1,1023.0 499.1,1022.7 500.1,1022.9 501.1,1023.4 502.1,1024.0 503.1,1024.6 504.1,1024.9 505.1,1024.5 506.1,1023.4 507.1,1022.1 508.0,1021.1"/>
<path d="M76.7,1101.7 77.7,1101.2 78.7,1101.6 79.7,1102.5 80.7,1103.7 81.7,1104.7 82.7,1105.1 83.7,1104.7 84.7,1103.6 85.7,1102.7 86.7,1102.5 87.7,1103.2 88.7,1104.2 89.7,1104.9 90.7,1105.0 91.7,1104.4 92.7,1103.4 93.7,1102.3 94.7,1101.2 95.7,1100.7 96.7,1101.0 97.7,1101.7 98.7,1102.4 99.7,1102.7 100.7,1102.5 101.7,1102.3 102.7,1102.5 103.7,1103.2 104.7,1103.7 105.7,1103.6 106.7,1102.6 107.7,1101.4 108.7,1100.8 109.7,1101.2 110.7,1102.1 111.7,1102.7 112.7,1102.5 113.7,1101.7 114.7,1100.9 115.7,1100.8 116.7,1101.4 117.7,1102.3 118.7,1103.0 119.7,1103.3 120.7,1103.3 121.7,1103.2 122.7,1103.1 123.7,1102.8 124.7,1102.2 125.7,1101.4 126.7,1100.6 127.7,1100.1 128.7,1100.2 129.7,1100.6 130.7,1101.0 131.7,1101.1 132.7,1100.8 133.7,1100.5 134.7,1100.5 135.7,1101.0 136.7,1101.4 137.7,1101.4 138.7,1100.8 139.7,1100.2 140.7,1100.3 141.7,1101.3 142.7,1102.6 143.7,1103.4 144.7,1103.0 145.7,1101.8 146.7,1100.8 147.7,1100.9 148.7,1101.9 149.7,1103.0 150.7,1103.2 151.7,1102.3 152.7,1101.1 153.7,1100.3 154.7,1100.4 155.7,1101.0 156.7,1101.5 157.7,1101.5 158.7,1101.1 159.7,1100.8 160.7,1100.8 161.7,1101.1 162.7,1101.4 163.7,1101.5 164.7,1101.5 165.7,1101.5 166.7,1101.4 167.7,1101.5 168.7,1101.5 169.7,1101.4 170.7,1101.3 171.7,1101.0 172.7,1100.8 173.7,1100.6 174.7,1100.5 175.7,1100.6 176.7,1100.8 177.7,1101.2 178.7,1101.6 179.7,1101.7 180.7,1101.7 181.7,1101.6 182.7,1101.4 183.7,1101.2 184.7,1100.9 185.7,1099.5 186.7,1097.5 187.7,1095.7 188.7,1094.8 189.7,1095.1 190.7,1095.5 191.7,1095.9 192.7,1095.9 193.7,1095.5 194.7,1094.9 195.7,1094.2 196.7,1093.6 197.7,1093.2 198.7,1093.0 199.7,1093.1 200.7,1093.2 201.7,1093.1 202.7,1092.7 203.7,1092.3 204.7,1092.1 205.7,1092.3 206.7,1092.7 207.7,1093.0 208.7,1092.8 209.7,1092.1 210.7,1090.9 211.7,1089.8 212.7,1088.7 213.7,1087.8 214.7,1087.1 215.7,1086.6 216.7,1086.1 217.7,1085.7 218.7,1085.4 219.7,1085.0 220.7,1084.7 221.7,1084.2 222.7,1083.7 223.7,1083.0 224.7,1082.4 225.7,1081.8 226.7,1081.3 227.7,1081.1 228.7,1081.1 229.7,1081.0 230.7,1080.6 231.7,1079.9 232.7,1079.0 233.7,1078.4 234.7,1078.0 235.7,1077.8 236.7,1077.3 237.7,1076.5 238.7,1075.5 239.7,1074.7 240.7,1074.4 241.7,1074.4 242.7,1074.4 243.7,1074.1 244.7,1073.6 245.7,1072.9 246.7,1072.4 247.7,1072.0 248.7,1071.5 249.7,1071.0 250.7,1070.4 251.7,1070.0 252.7,1070.0 253.7,1070.4 254.7,1071.0 255.7,1071.5 256.7,1071.3 257.7,1070.7 258.7,1069.9 259.7,1069.2 260.7,1068.8 261.7,1068.6 262.7,1068.7 263.7,1068.6 264.7,1068.6 265.7,1068.4 266.7,1068.3 267.7,1068.1 268.7,1067.9 269.7,1067.7 270.7,1067.6 271.7,1067.6 272.7,1067.7 273.7,1067.8 274.7,1067.8 275.7,1067.5 276.7,1067.0 277.7,1066.5 278.7,1066.3 279.7,1066.5 280.7,1067.0 281.7,1067.3 282.7,1067.0 283.7,1066.4 284.7,1065.6 285.7,1065.2 286.7,1064.9 287.7,1064.8 288.7,1064.5 289.7,1064.3 290.7,1064.2 291.7,1064.6 292.7,1065.2 293.7,1065.7 294.7,1065.8 295.7,1065.3 296.7,1064.8 297.7,1064.4 298.7,1064.5 299.7,1064.8 300.7,1065.2 301.7,1065.5 302.7,1065.6 303.7,1065.4 304.7,1064.9 305.7,1064.3 306.7,1063.9 307.7,1064.1 308.7,1064.7 309.7,1065.0 310.7,1064.7 311.7,1063.7 312.7,1062.5 313.7,1061.8 314.7,1061.8 315.7,1062.5 316.7,1063.6 317.7,1064.8 318.7,1065.8 319.7,1066.3 320.7,1066.0 321.7,1065.3 322.7,1064.6 323.7,1064.2 324.7,1064.3 325.7,1064.7 326.7,1065.1 327.7,1065.4 328.7,1065.5 329.7,1065.2 330.7,1064.7 331.7,1064.0 332.7,1063.5 333.7,1063.3 334.7,1063.5 335.7,1064.0 336.7,1064.7 337.7,1065.4 338.7,1065.6 339.7,1064.9 340.7,1063.6 341.7,1062.5 342.7,1062.6 343.7,1063.8 344.7,1065.1 345.7,1065.5 346.7,1064.4 347.7,1063.0 348.7,1062.2 349.7,1063.0 350.7,1064.7 351.7,1066.1 352.7,1066.3 353.7,1065.5 354.7,1064.4 355.7,1063.8 356.7,1063.8 357.7,1064.0 358.7,1064.3 359.7,1064.5 360.7,1064.6 361.7,1064.6 362.7,1064.6 363.7,1064.5 364.7,1064.3 365.7,1064.0 366.7,1063.7 367.7,1063.4 368.7,1063.2 369.7,1063.1 370.7,1063.1 371.7,1063.3 372.7,1063.5 373.7,1063.8 374.7,1064.1 375.7,1064.3 376.7,1064.4 377.7,1064.1 378.7,1063.6 379.7,1063.1 380.7,1062.8 381.7,1063.0 382.7,1063.4 383.7,1064.1 384.7,1064.7 385.7,1065.1 386.7,1065.2 387.7,1064.8 388.7,1064.0 389.7,1063.3 390.7,1063.1 391.7,1063.4 392.7,1063.7 393.7,1063.7 394.7,1063.0 395.7,1062.3 396.7,1062.2 397.7,1063.1 398.7,1064.3 399.7,1065.2 400.7,1065.0 401.7,1064.0 402.7,1062.9 403.7,1062.5 404.7,1062.7 405.7,1063.0 406.7,1063.0 407.7,1062.5 408.7,1062.0 409.7,1062.0 410.7,1062.7 411.7,1063.6 412.7,1064.1 413.7,1063.8 414.7,1063.1 415.7,1062.4 416.7,1062.4 417.7,1062.8 418.7,1063.2 419.7,1063.4 420.7,1063.3 421.7,1062.9 422.7,1062.6 423.7,1062.4 424.7,1062.4 425.7,1062.6 426.7,1063.1 427.7,1063.7 428.7,1064.2 429.7,1064.4 430.7,1064.4 431.7,1064.2 432.7,1064.1 433.7,1063.9 434.7,1063.9 435.7,1063.9 436.7,1064.1 437.7,1064.4 438.7,1064.7 439.7,1064.9 440.7,1065.0 441.7,1064.9 442.7,1064.5 443.7,1064.1 444.7,1063.9 445.7,1064.1 446.7,1064.5 447.7,1064.9 448.7,1065.1 449.7,1065.0 450.7,1064.6 451.7,1064.0 452.7,1063.2 453.7,1062.4 454.7,1062.0 455.7,1061.9 456.7,1062.1 457.7,1062.5 458.7,1062.9 459.7,1063.4 460.7,1063.5 461.7,1063.3 462.7,1062.9 463.7,1062.5 464.7,1062.4 465.7,1062.4 466.7,1062.5 467.7,1062.4 468.7,1062.3 469.7,1062.2 470.7,1062.3 471.7,1062.6 472.7,1062.9 473.7,1063.0 474.7,1062.8 475.7,1062.5 476.7,1062.2 477.7,1062.1 478.7,1062.2 479.7,1062.4 480.7,1062.8 481.7,1063.0 482.7,1062.9 483.7,1062.1 484.7,1061.0 485.7,1060.2 486.7,1060.2 487.7,1061.2 488.7,1062.5 489.7,1063.2 490.7,1063.2 491.7,1062.6 492.7,1062.0 493.7,1061.9 494.7,1062.0 495.7,1062.2 496.7,1062.2 497.7,1062.1 498.7,1061.9 499.7,1061.7 500.7,1061.4 501.7,1061.2 502.7,1061.1 503.7,1060.9 504.7,1060.9 505.7,1061.1 506.7,1061.6 507.7,1062.2 508.0,1062.4"/>
</g>
<g>
<text font-size="23" font-weight="bold" transform="translate(2.4,18.6) scale(1.13,1)">A</text>
<text font-size="21.5" font-weight="bold" transform="translate(2.0,428.1) scale(1.08,1)">B</text>
<text font-size="22.5" font-weight="bold" transform="translate(2.4,837.2) scale(1.03,1)">C</text>
<text x="52.6" y="14.6" font-size="18.6" text-anchor="end">0.9</text>
<text x="52.6" y="75.9" font-size="18.6" text-anchor="end">0.8</text>
<text x="52.6" y="137.2" font-size="18.6" text-anchor="end">0.7</text>
<text x="52.6" y="198.6" font-size="18.6" text-anchor="end">0.6</text>
<text x="52.6" y="259.9" font-size="18.6" text-anchor="end">0.5</text>
<text x="52.6" y="321.2" font-size="18.6" text-anchor="end">0.4</text>
<text x="57.6" y="425.3" font-size="18.6" text-anchor="end">0.9</text>
<text x="57.6" y="486.5" font-size="18.6" text-anchor="end">0.8</text>
<text x="57.6" y="547.7" font-size="18.6" text-anchor="end">0.7</text>
<text x="57.6" y="608.8" font-size="18.6" text-anchor="end">0.6</text>
<text x="57.6" y="670.0" font-size="18.6" text-anchor="end">0.5</text>
<text x="57.6" y="731.2" font-size="18.6" text-anchor="end">0.4</text>
<text x="60.5" y="832.6" font-size="15.8" text-anchor="end">0.9</text>
<text x="60.5" y="893.8" font-size="15.8" text-anchor="end">0.8</text>
<text x="60.5" y="955.0" font-size="15.8" text-anchor="end">0.7</text>
<text x="60.5" y="1016.2" font-size="15.8" text-anchor="end">0.6</text>
<text x="60.5" y="1077.4" font-size="15.8" text-anchor="end">0.5</text>
<text x="60.5" y="1138.6" font-size="15.8" text-anchor="end">0.4</text>
<text x="67.8" y="346.0" font-size="19" text-anchor="middle">0</text>
<text x="285.3" y="346.0" font-size="19" text-anchor="middle">20</text>
<text x="502.8" y="346.0" font-size="19" text-anchor="middle">40</text>
<text x="73.1" y="755.8" font-size="18.6" text-anchor="middle">0</text>
<text x="290.7" y="755.8" font-size="18.6" text-anchor="middle">20</text>
<text x="508.3" y="755.8" font-size="18.6" text-anchor="middle">40</text>
<text x="74.8" y="1161.0" font-size="16.3" text-anchor="middle">0</text>
<text x="292.2" y="1161.0" font-size="16.3" text-anchor="middle">20</text>
<text x="509.6" y="1161.0" font-size="16.3" text-anchor="middle">40</text>
<text x="281.2" y="366.0" font-size="18.5" text-anchor="middle">Time in seconds</text>
<text x="286.0" y="775.9" font-size="18.5" text-anchor="middle">Time in seconds</text>
<text x="286.1" y="1184.5" font-size="18.5" text-anchor="middle">Time in seconds</text>
<text x="0" y="0" font-size="18.7" text-anchor="middle" transform="translate(20.2,161.2) rotate(-90)">Relative Fluorescence</text>
<text x="0" y="0" font-size="18.7" text-anchor="middle" transform="translate(21.8,562.2) rotate(-90)">Relative Fluorescence</text>
<text x="0" y="0" font-size="18.7" text-anchor="middle" transform="translate(30.6,979.1) rotate(-90)">Relative Fluorescence</text>
<text x="455.4" y="38.5" font-size="19.2" text-anchor="middle">3</text>
<text x="455.5" y="99.0" font-size="19.2" text-anchor="middle">2</text>
<text x="455.5" y="197.5" font-size="19.2" text-anchor="middle">1</text>
<text x="458.4" y="496.0" font-size="19.2" text-anchor="middle">3</text>
<text x="458.4" y="567.0" font-size="19.2" text-anchor="middle">2</text>
<text x="458.1" y="642.7" font-size="19.2" text-anchor="middle">1</text>
<text x="463.4" y="970.0" font-size="19.2" text-anchor="middle">3</text>
<text x="461.4" y="1010.0" font-size="19.2" text-anchor="middle">2</text>
<text x="460.8" y="1053.3" font-size="19.2" text-anchor="middle">1</text>
</g>
</svg>
</body></html>
